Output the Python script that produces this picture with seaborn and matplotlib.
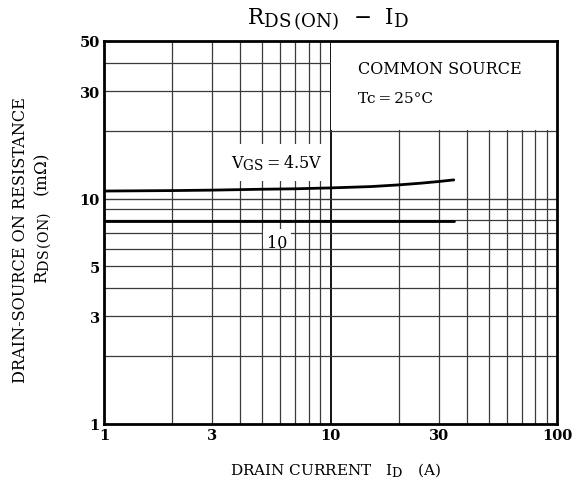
import matplotlib
matplotlib.use("Agg")
import matplotlib.pyplot as plt
import matplotlib._mathtext as _mt
import seaborn as sns
import pandas as pd
from matplotlib.patches import Rectangle
from matplotlib.ticker import FixedLocator, NullFormatter

# ---- data ----
id_45 = [1, 2, 3, 5, 7, 10, 15, 20, 25, 30, 35]
r_45 = [10.8, 10.85, 10.9, 11.0, 11.05, 11.15, 11.3, 11.5, 11.7, 11.9, 12.1]
id_10 = [1, 2, 3, 5, 7, 10, 15, 20, 25, 30, 35]
r_10 = [7.95, 7.95, 7.95, 7.95, 7.95, 7.95, 7.95, 7.95, 7.95, 7.95, 7.95]
x_ticks = [1, 3, 10, 30, 100]
y_ticks = [1, 3, 5, 10, 30, 50]

df = pd.DataFrame({
    "ID": id_45 + id_10,
    "R": r_45 + r_10,
    "VGS": ["4.5"] * len(id_45) + ["10"] * len(id_10),
})

sns.set_theme(style="white")
plt.rcParams["font.family"] = ["DejaVu Serif"]
plt.rcParams["mathtext.fontset"] = "dejavuserif"
for k in ("text.color", "axes.labelcolor", "xtick.color", "ytick.color"):
    plt.rcParams[k] = "black"
# larger subscripts, like the reference typography
_mt.SHRINK_FACTOR = 0.85

fig = plt.figure(figsize=(5.77, 4.89), dpi=100)
ax = fig.add_axes([104 / 577, 1 - 425 / 489, (557 - 104) / 577, (425 - 42) / 489])

sns.lineplot(data=df, x="ID", y="R", hue="VGS", palette=["black", "black"],
             linewidth=2.0, legend=False, ax=ax, zorder=3, sort=True)

ax.set_xscale("log")
ax.set_yscale("log")
ax.set_xlim(1, 100)
ax.set_ylim(1, 50)

# grid lines
minor_x = [m * d for d in (1, 10) for m in range(2, 10)]
minor_y = [m * d for d in (1, 10) for m in range(2, 10)]
minor_y = [v for v in minor_y if v < 50]
for v in minor_x:
    ax.axvline(v, color="#3a3a3a", lw=0.9, zorder=0.5)
ax.axvline(10, color="black", lw=1.3, zorder=0.5)
for v in minor_y:
    ax.axhline(v, color="#3a3a3a", lw=0.9, zorder=0.5)
ax.axhline(10, color="#3a3a3a", lw=1.0, zorder=0.5)

# white masks behind labels
ax.add_patch(Rectangle((10.05, 20.05), 100 - 10.05, 50 - 20.05, facecolor="white",
                       edgecolor="none", zorder=1))
ax.add_patch(Rectangle((3.1, 12.0), 9.93 - 3.1, 17.5 - 12.0, facecolor="white",
                       edgecolor="none", zorder=1))
ax.add_patch(Rectangle((5.05, 6.1), 6.7 - 5.05, 7.3 - 6.1, facecolor="white",
                       edgecolor="none", zorder=1))

ax.xaxis.set_major_locator(FixedLocator(x_ticks))
ax.yaxis.set_major_locator(FixedLocator(y_ticks))
ax.xaxis.set_minor_formatter(NullFormatter())
ax.yaxis.set_minor_formatter(NullFormatter())
ax.set_xticklabels([str(v) for v in x_ticks])
ax.set_yticklabels([str(v) for v in y_ticks])
ax.tick_params(which="both", length=0, labelsize=10.5, pad=3)
for lab in ax.get_xticklabels() + ax.get_yticklabels():
    lab.set_fontweight("bold")

for s in ax.spines.values():
    s.set_visible(True)
    s.set_linewidth(2.0)
    s.set_color("black")
    s.set_zorder(4)

ax.set_xlabel("")
ax.set_ylabel("")

# texts
ax.text(358 / 577, 1 - 69 / 489, "COMMON SOURCE", transform=fig.transFigure,
        fontsize=11.5, va="center", ha="left", zorder=5)
ax.text(358 / 577, 1 - 99 / 489, "Tc\u2009=\u200925°C", transform=fig.transFigure,
        fontsize=11, va="center", ha="left", zorder=5)
ax.text(231 / 577, 1 - 163 / 489, r"$\mathregular{V_{GS}}$" + "\u2009=\u20094.5V",
        transform=fig.transFigure, fontsize=11.5, va="center", ha="left", zorder=5)
ax.text(277 / 577, 1 - 244 / 489, "10", transform=fig.transFigure,
        fontsize=11.5, va="center", ha="center", zorder=5)

fig.text(328 / 577, 1 - 20 / 489, r"$\mathregular{R_{DS\,(ON)}}$  −  $\mathregular{I_D}$",
         fontsize=15.5, ha="center", va="center")
fig.text(335 / 577, 1 - 470 / 489, r"DRAIN CURRENT   $\mathregular{I_D}$   (A)",
         fontsize=11, ha="center", va="center")
fig.text(21 / 577, 1 - 240 / 489, "DRAIN-SOURCE ON RESISTANCE",
         fontsize=11.6, ha="center", va="center", rotation=90)
fig.text(43 / 577, 1 - 219 / 489, r"$\mathregular{R_{DS\,(ON)}}$   (m$\Omega$)",
         fontsize=12, ha="center", va="center", rotation=90)

fig.savefig("out.png", dpi=100)
